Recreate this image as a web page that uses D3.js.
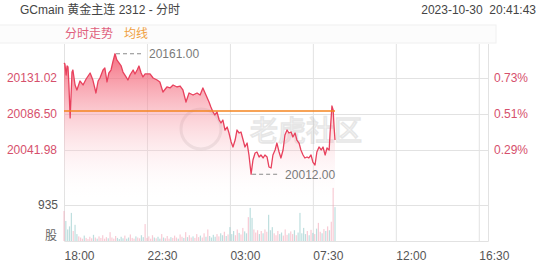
<!DOCTYPE html>
<html><head><meta charset="utf-8">
<script src="https://cdn.jsdelivr.net/npm/d3@7"></script>
<style>
body{margin:0;background:#fff}
svg{display:block;font-family:"Liberation Sans","Noto Sans CJK SC",sans-serif}
</style>
</head><body><svg id="c" width="552" height="265"></svg>
<script>
// ---- data ----
const titleText = "GCmain 黄金主连 2312 - 分时";
const stampText = "2023-10-30  20:41:43";
const legendItems = ["分时走势", "均线"];
const timeTickLabels = ["18:00", "22:30", "03:00", "07:30", "12:00", "16:30"];
const timeTickMinutes = [0, 270, 540, 810, 1080, 1350]; // minutes after 18:00
const sessionEnd = 1380;
const priceTicks = [20131.02, 20086.50, 20041.98];
const pctTicks = ["0.73%", "0.51%", "0.29%"];
const volTick = 935;
const volUnit = "股";
// price line: minutes after 18:00 and price
const priceMinutes = [0,3,7,10,13,16,20,23,26,29,36,42,52,62,72,85,94,104,111,117,127,133,140,146,153,159,166,172,179,186,192,202,208,215,225,231,238,244,251,257,264,270,280,290,303,312,322,335,345,355,368,378,387,397,407,420,433,443,452,462,472,478,485,491,498,505,511,517,524,531,537,544,550,557,563,570,576,583,589,596,602,609,615,622,628,635,641,648,654,661,667,674,680,687,693,700,706,713,719,726,732,739,745,752,758,765,771,778,784,791,797,804,810,817,823,830,837,843,850,856,863,866,869,872,876,879,882];
const prices = [20149.6,20148.3,20134.7,20145.9,20144.6,20122.4,20081.6,20110.0,20138.4,20140.9,20122.4,20116.2,20127.3,20122.4,20129.8,20137.2,20128.5,20112.5,20127.3,20131.0,20140.9,20143.4,20126.1,20137.2,20140.9,20150.8,20161.0,20153.3,20149.6,20145.9,20138.4,20132.3,20128.5,20134.7,20140.9,20136.0,20140.9,20145.9,20137.2,20132.3,20136.0,20136.0,20136.0,20131.0,20128.5,20126.1,20113.7,20119.9,20118.7,20122.4,20119.9,20121.1,20116.2,20101.3,20112.5,20110.0,20112.5,20110.0,20118.7,20110.0,20101.3,20095.2,20089.0,20085.3,20089.0,20079.1,20075.4,20079.1,20066.7,20070.4,20063.0,20051.9,20045.7,20054.3,20066.7,20063.0,20064.2,20054.3,20045.7,20050.6,20035.8,20012.0,20029.6,20038.3,20039.5,20033.3,20035.8,20032.1,20035.8,20033.3,20021.0,20019.7,20035.8,20042.0,20050.6,20039.5,20032.1,20042.0,20060.5,20066.7,20063.0,20064.2,20058.1,20063.0,20054.3,20050.6,20042.0,20035.8,20032.1,20033.3,20032.1,20035.8,20027.1,20023.4,20039.5,20045.7,20042.0,20045.7,20035.8,20044.5,20042.0,20063.0,20079.1,20096.4,20091.4,20070.4,20054.3];
// average line
const avgMinutes = [0, 882];
const avgPrices = [20090.2, 20090.2];
// volume, one bar per 6 minutes from 18:00
const volStep = 6;
const volumes = [780,520,300,380,730,260,420,180,120,90,
60,140,80,50,110,70,160,90,60,120,
80,150,60,100,70,230,90,60,130,80,
50,110,70,140,60,90,170,80,60,120,
90,70,150,100,440,80,120,60,150,90,
70,110,60,180,90,70,130,60,100,80,
140,90,60,170,110,80,230,100,150,90,
120,80,180,100,140,90,200,110,300,130,
90,160,110,180,120,200,150,240,130,170,
360,180,260,150,300,210,170,340,250,200,
620,860,600,300,220,280,180,260,200,300,
240,680,280,360,200,150,260,180,220,140,
300,160,200,250,180,280,150,220,730,200,
340,180,260,150,290,210,180,320,470,240,
200,310,260,380,280,500,1380,880];

// ---- chart ----
const svg = d3.select("#c");
const L = 64, R = 488, T = 44, B = 241;
const x = d3.scaleLinear().domain([0, sessionEnd]).range([L, R]);
const y = d3.scaleLinear().domain([19997.46, 20175.54]).range([186, 42]);
const yv = d3.scaleLinear().domain([0, volTick]).range([B, 205]);
const pink = "#d6506c", grid = "#e2e2e2";

// header
svg.append("text").attr("x", 20).attr("y", 14).attr("font-size", 12).attr("fill", "#444").text(titleText);
svg.append("text").attr("x", 536).attr("y", 14).attr("font-size", 12).attr("fill", "#444")
  .attr("text-anchor", "end").style("white-space", "pre").text(stampText);
svg.append("rect").attr("x", -1).attr("y", 25).attr("width", 497).attr("height", 18)
  .attr("fill", "#fcfcfc").attr("stroke", "#f0f0f0");
svg.append("text").attr("x", 65).attr("y", 38).attr("font-size", 12).attr("fill", "#e0607c").text(legendItems[0]);
svg.append("text").attr("x", 124).attr("y", 38).attr("font-size", 12).attr("fill", "#f0a040").text(legendItems[1]);

// grid vertical
const gv = svg.append("g").attr("transform", `translate(0,${B})`)
  .call(d3.axisBottom(x).tickValues(timeTickMinutes.concat([sessionEnd])).tickSize(-(B - T)).tickFormat(""));
gv.select(".domain").attr("stroke", grid);
gv.selectAll(".tick line").attr("stroke", grid);
// grid horizontal price
const gh = svg.append("g").attr("transform", `translate(${L},0)`)
  .call(d3.axisLeft(y).tickValues(priceTicks).tickSize(-(R - L)).tickFormat(""));
gh.select(".domain").remove();
gh.selectAll(".tick line").attr("stroke", grid);
const ghv = svg.append("g").attr("transform", `translate(${L},0)`)
  .call(d3.axisLeft(yv).tickValues([volTick]).tickSize(-(R - L)).tickFormat(""));
ghv.select(".domain").remove();
ghv.selectAll(".tick line").attr("stroke", grid);

// watermark
const wm = svg.append("g").attr("opacity", 0.3);
wm.append("circle").attr("cx", 201).attr("cy", 129).attr("r", 20).attr("fill", "none").attr("stroke", "#b8b8b8").attr("stroke-width", 3);
wm.append("text").attr("x", 250).attr("y", 141).attr("font-size", 28).attr("fill", "none")
  .attr("stroke", "#b0b0b0").attr("stroke-width", 1.6)
  .attr("font-family", "Noto Sans CJK SC").text("老虎社区");

// gradient
const defs = svg.append("defs");
const lg = defs.append("linearGradient").attr("id", "gf").attr("gradientUnits", "userSpaceOnUse")
  .attr("x1", 0).attr("x2", 0).attr("y1", 54).attr("y2", 202);
lg.append("stop").attr("offset", 0).attr("stop-color", "#f24d63").attr("stop-opacity", 0.8);
lg.append("stop").attr("offset", 1).attr("stop-color", "#ffffff").attr("stop-opacity", 0);

const pts = priceMinutes.map((m, i) => ({ m, p: prices[i] }));
svg.append("path").datum(pts).attr("fill", "url(#gf)")
  .attr("d", d3.area().x(d => x(d.m)).y0(205).y1(d => y(d.p)));

// volume bars
const bis = d3.bisector(d => d.m).right;
function priceAt(m) {
  const i = Math.max(0, bis(pts, m) - 1);
  return pts[i].p;
}
svg.append("g").selectAll("rect").data(volumes).join("rect")
  .attr("x", (v, i) => x(i * volStep) - 0.6)
  .attr("width", 1.2)
  .attr("y", v => yv(v))
  .attr("height", v => B - yv(v))
  .attr("fill", (v, i) => (i === 0 || priceAt(i * volStep) >= priceAt((i - 1) * volStep)) ? "#f2a0b2" : "#86c2c2")
  .attr("opacity", 0.55);

// price line
svg.append("path").datum(pts).attr("fill", "none").attr("stroke", "#e8415d").attr("stroke-width", 1.3)
  .attr("stroke-linejoin", "round")
  .attr("d", d3.line().x(d => x(d.m)).y(d => y(d.p)));

// average line
svg.append("path").datum(avgMinutes.map((m, i) => ({ m, p: avgPrices[i] })))
  .attr("fill", "none").attr("stroke", "#f5841f").attr("stroke-width", 1.6)
  .attr("d", d3.line().x(d => x(d.m)).y(d => y(d.p)));

// max / min markers
const maxPt = pts[d3.maxIndex(pts, d => d.p)], minPt = pts[d3.minIndex(pts, d => d.p)];
[maxPt, minPt].forEach(d => {
  const px = x(d.m), py = y(d.p);
  svg.append("line").attr("x1", px + 1).attr("x2", px + 29).attr("y1", py).attr("y2", py)
    .attr("stroke", "#8a8a8a").attr("stroke-width", 1.2).attr("stroke-dasharray", "4,3");
  svg.append("text").attr("x", px + 34).attr("y", py + 4.5).attr("font-size", 12).attr("fill", "#7a7a7a")
    .text(d.p.toFixed(2));
});

// left price labels
const al = svg.append("g").attr("transform", `translate(${L},0)`)
  .call(d3.axisLeft(y).tickValues(priceTicks).tickSize(0).tickPadding(7).tickFormat(d3.format(".2f")));
al.select(".domain").remove();
al.selectAll("text").attr("fill", pink).attr("font-size", 12).attr("font-family", "Liberation Sans");
// right pct labels
const ar = svg.append("g").attr("transform", `translate(${R},0)`)
  .call(d3.axisRight(y).tickValues(priceTicks).tickSize(0).tickPadding(6).tickFormat((d, i) => pctTicks[i]));
ar.select(".domain").remove();
ar.selectAll("text").attr("fill", pink).attr("font-size", 12).attr("font-family", "Liberation Sans");
// volume label
const avl = svg.append("g").attr("transform", `translate(${L},0)`)
  .call(d3.axisLeft(yv).tickValues([volTick]).tickSize(0).tickPadding(6));
avl.select(".domain").remove();
avl.selectAll("text").attr("fill", "#555").attr("font-size", 12).attr("font-family", "Liberation Sans");
svg.append("text").attr("x", 57).attr("y", 240).attr("text-anchor", "end").attr("font-size", 12)
  .attr("fill", "#666").attr("font-family", "Noto Sans CJK SC").text(volUnit);

// time labels
const at = svg.append("g").attr("transform", `translate(0,${B})`)
  .call(d3.axisBottom(x).tickValues(timeTickMinutes).tickSize(0).tickPadding(10).tickFormat((d, i) => timeTickLabels[i]));
at.select(".domain").remove();
at.selectAll("text").attr("text-anchor", "start").attr("fill", "#555").attr("font-size", 12)
  .attr("font-family", "Liberation Sans");
</script></body></html>
